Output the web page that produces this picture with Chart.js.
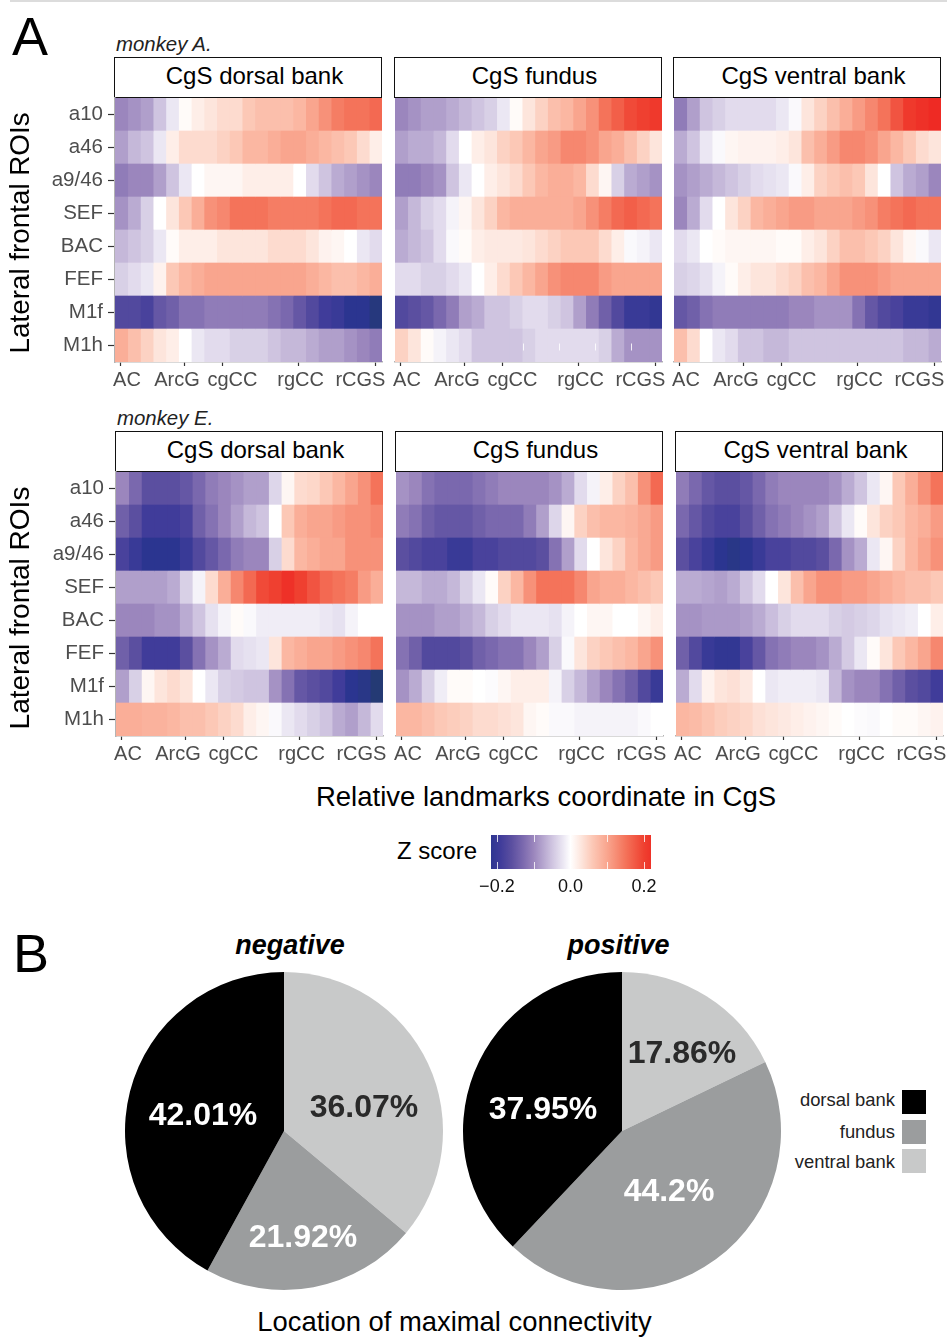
<!DOCTYPE html>
<html><head><meta charset="utf-8">
<script src="https://cdn.jsdelivr.net/npm/chart.js@4"></script>
<style>
html,body{margin:0;padding:0;background:#fff;}
#page{position:relative;width:947px;height:1337px;overflow:hidden;font-family:"Liberation Sans",Arial,sans-serif;color:#000;}
#page canvas{position:absolute;}
.t{position:absolute;white-space:nowrap;line-height:1;}
.strip{position:absolute;box-sizing:border-box;border:1.5px solid #111;background:#fff;font-size:24px;text-align:center;padding-left:13px;line-height:36px;height:41px;}
.box{position:absolute;width:24px;height:24px;}
</style></head><body><div id="page"></div>
<script>
// ---------- data (z score x 100) ----------
const rois = ['a10','a46','a9/46','SEF','BAC','FEF','M1f','M1h'];
const landmarks = ['AC','ArcG','cgCC','rgCC','rCGS'];
const landmarkCols = [0.47,5.47,8.46,14.46,20.46];
const landmarkLabelCols = [0.94,4.88,9.24,14.6,19.3];

const A_dorsal = [
[-10,-9,-8,-5,-2,0.5,2,3,4,4,6,7,7,7,8,10,12,14,15,15,16],
[-8,-6,-5,-2,2,4,4,4,5,6,8,8,9,10,10,9,8,7,6,4,2],
[-11,-10,-10,-8,-5,-2,0,1,1,1,2,2,2,2,0,-3,-5,-7,-8,-9,-10],
[-9,-7,-4,0,3,6,9,12,13,15,15,15,14,14,14,14,15,16,16,15,15],
[-6,-5,-4,-2,0.5,2,2,2,3,3,3,3,4,4,4,3,1.5,1,0,-2,-3],
[-4,-3,-2,1.5,6,8,9,10,10,10,10,10,10,10,10,9,8,7,7,8,9],
[-17,-17,-18,-15,-14,-12,-12,-11,-11,-11,-11,-11,-12,-13,-15,-17,-19,-20,-22,-22,-24],
[9,7,5,3,2,0,-2,-3,-3,-4,-4,-4,-5,-6,-6,-7,-8,-8,-9,-10,-11]];
const A_fundus = [
[-10,-9,-8,-8,-7,-6,-5,-4,-2,0.5,3,5,7,8,10,12,15,17,19,20,21],
[-8,-7,-7,-6,-3,0,2,3,5,6,8,10,11,13,13,12,10,9,7,5,3],
[-11,-11,-10,-9,-5,-2,0,2,3,4,6,8,9,9,8,4,1,-4,-7,-8,-9],
[-8,-6,-4,-3,-1,1,3,5,8,9,9,9,9,9,10,12,14,16,17,16,15],
[-7,-6,-5,-3,-0.5,0.5,2,2.5,2.5,2.5,3,4,5,6,6,6,4,2,-0.5,-1,-2],
[-3,-3,-4,-4,-3,-2,0,2,4,6,8,10,12,13,13,13,11,10,10,10,10],
[-17,-16,-15,-13,-11,-8,-7,-5,-5,-4,-3,-3,-4,-5,-8,-11,-14,-17,-20,-20,-21],
[5,3,0.5,-1,-2,-3,-5,-5,-5,-5,-4,-3,-3,-3,-3,-3,-4,-7,-9,-9,-9]];
const A_ventral = [
[-11,-8,-5,-4,-3,-3,-3,-3,-2,-0.5,3,5,7,9,11,13,15,18,21,22,23],
[-7,-5,-2,-0.5,1,1.5,1.5,1.5,2,3,7,9,11,13,13,12,10,8,6,4,3],
[-9,-8,-7,-6,-5,-4,-3,-2.5,-2,-0.5,2,5,6,7,6,3,0,-5,-7,-8,-10],
[-10,-7,-3,0,3,5,8,9,10,11,11,10,10,10,11,12,14,15,16,15,15],
[-3,-2,0,0.5,1,1,1,1,0.5,0.5,2,3,5,7,7,6,5,3,1,-0.5,-2],
[-4,-3.5,-2.5,-1,0.5,2,3,3,4,5,7,8,10,12,12,12,11,10,10,10,10],
[-15,-14,-12,-11,-11,-11,-11,-11,-11,-10,-10,-9,-9,-9,-12,-15,-17,-18,-20,-20,-21],
[7,4,0,-2,-3,-5,-5,-6,-6,-5,-5,-5,-5,-5,-5,-5,-5,-5,-6,-6,-7]];
const E_dorsal = [
[-10,-13,-16,-16,-16,-15,-13,-11,-10,-9,-8,-8,-3.5,1,4,4.5,6,8,10,12,15],
[-14,-16,-19,-19,-19,-18,-14,-12,-10,-8,-6,-5,0,6,9,10,10,11,12,12,13],
[-18,-20,-22,-22,-22,-20,-17,-15,-13,-11,-10,-10,-4,4,8,9,10,10,12,12,12],
[-8,-8,-8,-8,-7,-4,-1,4,9,13,16,19,20,22,20,18,16,15,14,11,9],
[-10,-10,-10,-9,-9,-7,-5,-2.5,-1,0.5,-0.5,-1.5,-1.5,-1.5,-1.5,-1.5,-2,-2.5,-1,0,0],
[-14,-16,-19,-19,-19,-16,-12,-9,-7,-3,-2.5,-2,3,8,9,10,10,11,12,13,15],
[-8,-4,1,3,4,3,0,-2,-4,-4.5,-5,-5,-9,-12,-15,-16,-17,-19,-22,-23,-25],
[9,9,8.5,8.5,8,7,7,6,5,4,2,1,-0.5,-2,-3,-4,-5,-7,-8,-6,-3]];
const E_fundus = [
[-9,-10,-12,-13,-13,-13,-12,-11,-10,-10,-10,-10,-9,-7,-3,-1,2,5,7,12,16],
[-11,-12,-14,-15,-15,-15,-14,-13,-13,-13,-11,-8,-3.5,1,5,7,8,8,8.5,9.5,11],
[-16,-17,-18,-18,-20,-20,-18,-18,-17,-17,-17,-16,-12,-8,-3,0,3,5,8,9.5,11],
[-6,-6,-7,-7,-6,-4,-2,0.5,5,8,12,15,15,15,13,10,9,9,8,7,6],
[-9,-9,-9,-8,-8,-7,-6,-4,-3,-2,-2,-2,-2.5,-1,0,1,1,0,0,1,2],
[-12,-14,-17,-17,-17,-16,-14,-13,-12,-12,-10,-8,-4,-0.5,3,5,6,7,8,10,12],
[-9,-7,-4,-1.5,0.5,0.5,0,-0.3,1,2,2,2,-1,-4,-6,-8,-10,-12,-14,-17,-20],
[8,8,7,6,5.5,5,4,4,3.5,3,1,0.5,-0.5,-0.5,-1,-1,-1,-1,-1,-0.5,0]];
const E_ventral = [
[-11,-13,-15,-16,-16,-15,-13,-11,-10,-10,-10,-10,-9,-7,-5,-2,1,6,9,12,15],
[-13,-15,-17,-18,-18,-16,-14,-12,-11,-10,-9,-8,-5,-2,0.5,3,5,6,8,9,11],
[-16,-18,-20,-22,-23,-22,-20,-18,-18,-17,-17,-16,-13,-9,-7,-2,1,5,8,10,12],
[-7,-7,-7.5,-8,-7,-5,-3,0,3,7,10,12,12,11,11,10,9,8,7,7,6],
[-9,-9,-8.5,-8.5,-8.5,-8,-7,-5.5,-4,-3,-3,-3,-4,-4.5,-4,-3.5,-2.5,-2,-1.5,0,2],
[-14,-17,-20,-21,-21,-18,-15,-12,-11,-10,-10,-9,-7,-4.5,-2,0.5,3,6,8,10,13],
[-7,-3,1.5,3,3.5,2.5,0,-2,-1.5,-1.5,-1.5,-2,-6,-9,-10,-10,-12,-14,-16,-17,-19],
[8,7.5,6.5,5.5,5,4.5,3.5,3,2.5,2,1.5,1,0.5,0,-0.3,-0.5,0,0.5,0.5,1,1.5]];

const colorbarRange = [-0.216,0.219];
const colorbarTicks = [-0.2,-0.1,0,0.1,0.2];
const colorbarTickLabels = ['\u22120.2','','0.0','','0.2'];

const pieCategories = ['ventral bank','fundus','dorsal bank'];
const negativeValues = [36.07,21.92,42.01];
const positiveValues = [17.86,44.2,37.95];
const legendOrder = ['dorsal bank','fundus','ventral bank'];

// ---------- styles and layout ----------
const FONT = '"Liberation Sans",Arial,sans-serif';
const stops = [[-25,'#243a74'],[-22,'#2b3590'],[-19,'#403c9a'],[-16,'#5b4fa0'],[-13,'#7a68ae'],[-10,'#9b86bd'],[-5,'#cfc4e0'],[-2,'#ebe7f3'],[0,'#ffffff'],[3,'#fde5dc'],[6,'#fcc8b6'],[10,'#f9a58e'],[15,'#f4735a'],[20,'#ef4030'],[23,'#ee2a24']];
const pieColors = {'dorsal bank':'#000000','fundus':'#9b9d9e','ventral bank':'#c8c9c9'};
const hex = s => [1,3,5].map(i=>parseInt(s.substr(i,2),16));
function zColor(v){
  if(v<=stops[0][0]) return stops[0][1];
  for(let i=1;i<stops.length;i++){
    if(v<=stops[i][0]){
      const a=stops[i-1],b=stops[i],f=(v-a[0])/(b[0]-a[0]);
      const ca=hex(a[1]),cb=hex(b[1]);
      return 'rgb('+ca.map((c,k)=>Math.round(c+(cb[k]-c)*f)).join(',')+')';
    }
  }
  return stops[stops.length-1][1];
}
const page = document.getElementById('page');
function addText(txt,x,y,size,opts={}){
  const d=document.createElement('div');d.className='t';d.textContent=txt;
  d.style.fontSize=size+'px';d.style.top=(y-size/2)+'px';
  if(opts.right!==undefined){d.style.right=(947-opts.right)+'px';}
  else if(opts.center){d.style.left=x+'px';d.style.transform='translateX(-50%)';}
  else d.style.left=x+'px';
  if(opts.style)d.style.fontStyle=opts.style;
  if(opts.weight)d.style.fontWeight=opts.weight;
  if(opts.color)d.style.color=opts.color;
  if(opts.rotate){d.style.transform='translate(-50%,0) rotate(-90deg)';d.style.left=x+'px';}
  page.appendChild(d);return d;
}
function addCanvas(l,t,w,h){
  const c=document.createElement('canvas');c.width=w;c.height=h;
  c.style.left=l+'px';c.style.top=t+'px';c.style.width=w+'px';c.style.height=h+'px';
  page.appendChild(c);return c;
}
const rule=document.createElement('div');
rule.style.cssText='position:absolute;left:10px;right:0;top:0;height:2px;background:#dcdcdc;';
page.appendChild(rule);

const whiteMarks={id:'whiteMarks',afterDatasetsDraw(chart,args,o){
  if(!o.cols)return;
  const c=chart.ctx,x=chart.scales.x,y=chart.scales.y;
  const yc=y.getPixelForValue(rois.length-1);
  c.save();c.strokeStyle='rgba(255,255,255,.85)';c.lineWidth=1;
  o.cols.forEach(v=>{const px=Math.round(x.getPixelForValue(v))+.5;c.beginPath();c.moveTo(px,yc-2);c.lineTo(px,yc+5);c.stroke();});
  c.restore();
}};

function heatPanel(values,left,heatTop,title,withAxis,marks){
  const strip=document.createElement('div');strip.className='strip';strip.textContent=title;
  strip.style.left=(left-1)+'px';strip.style.top=(heatTop-41)+'px';strip.style.width='268px';
  page.appendChild(strip);
  const padL=withAxis?0:8, axisW=withAxis?left:0, padR=14, padT=2;
  const cLeft=withAxis?0:left-padL;
  const width=axisW+padL+267+padR, height=padT+264+36;
  const canvas=addCanvas(cLeft,heatTop-padT,width,height);
  const datasets=values[0].map((_,c)=>({
    data:values.map((row,r)=>({x:[Math.max(0,c-0.15),c+1],y:rois[r],z:row[c]})),
    backgroundColor:ctx=>ctx.raw?zColor(ctx.raw.z):'#fff',
    borderWidth:0,barPercentage:1,categoryPercentage:1,grouped:false
  }));
  new Chart(canvas,{type:'bar',data:{labels:rois,datasets},
    plugins:[whiteMarks],
    options:{indexAxis:'y',responsive:false,animation:false,events:[],
      layout:{padding:{left:padL,right:padR,top:padT,bottom:0}},
      plugins:{legend:{display:false},tooltip:{enabled:false},whiteMarks:{cols:marks}},
      scales:{
        y:{type:'category',display:withAxis,offset:true,
          afterFit:s=>{s.width=axisW;s.paddingTop=0;s.paddingBottom=0;},
          border:{color:'#b3b3b3',width:1.5},
          grid:{offset:false,drawOnChartArea:false,tickLength:7,tickColor:'#333',tickWidth:1.2},
          ticks:{color:'#4d4d4d',padding:5,font:{family:FONT,size:20.5},autoSkip:false}},
        x:{type:'linear',position:'bottom',min:0,max:21,
          afterBuildTicks:s=>{s.ticks=landmarkCols.map(v=>({value:v}));},
          afterFit:s=>{s.height=5;s.paddingLeft=0;s.paddingRight=0;},
          border:{color:'#b3b3b3',width:1.5},
          grid:{drawOnChartArea:false,tickLength:4,tickColor:'#333',tickWidth:1.2},
          ticks:{display:false,autoSkip:false}},
        x2:{type:'linear',axis:'x',position:'bottom',min:0,max:21,
          afterBuildTicks:s=>{s.ticks=landmarkLabelCols.map(v=>({value:v}));},
          afterFit:s=>{s.height=31;s.paddingLeft=0;s.paddingRight=0;},
          border:{display:false},
          grid:{display:false,drawTicks:false},
          ticks:{autoSkip:false,maxRotation:0,minRotation:0,padding:1,color:'#4d4d4d',font:{family:FONT,size:20},
            callback:(v,i)=>landmarks[i]}}
      }}});
}
heatPanel(A_dorsal,115,98,'CgS dorsal bank',true);
heatPanel(A_fundus,395,98,'CgS fundus',false,[10.07,12.9,15.7,18.56]);
heatPanel(A_ventral,674,98,'CgS ventral bank',false);
heatPanel(E_dorsal,116,472,'CgS dorsal bank',true);
heatPanel(E_fundus,396,472,'CgS fundus',false);
heatPanel(E_ventral,676,472,'CgS ventral bank',false);

addText('Lateral frontal ROIs',19.5,232.5,27.8,{rotate:true});
addText('Lateral frontal ROIs',20,607.5,28,{rotate:true});
addText('A',12,36,54);
addText('B',13,953,54);
addText('monkey A.',116,44,20.4,{style:'italic',color:'#222'});
addText('monkey E.',117,418,20.4,{style:'italic',color:'#222'});
addText('Relative landmarks coordinate in CgS',546,797,27.5,{center:true});
addText('Z score',397,851,24);
addText('negative',290,945,27,{center:true,style:'italic',weight:'bold'});
addText('positive',618.5,945,27,{center:true,style:'italic',weight:'bold'});
addText('Location of maximal connectivity',454.5,1322,27.4,{center:true});

// colour bar
const whiteTicks={id:'whiteTicks',afterDatasetsDraw(chart){
  const c=chart.ctx,a=chart.chartArea,x=chart.scales.x;
  c.save();c.strokeStyle='rgba(255,255,255,.8)';c.lineWidth=1;
  colorbarTicks.forEach(v=>{const p=Math.round(x.getPixelForValue(v))+.5;
    c.beginPath();c.moveTo(p,a.top);c.lineTo(p,a.top+7);c.moveTo(p,a.bottom-7);c.lineTo(p,a.bottom);c.stroke();});
  c.restore();
}};
new Chart(addCanvas(471,834,200,70),{type:'bar',
  data:{labels:['Z score'],datasets:[{data:[colorbarRange],borderWidth:0,barPercentage:1,categoryPercentage:1,
    backgroundColor:ctx=>{
      const ch=ctx.chart,a=ch.chartArea;if(!a)return '#fff';
      const g=ch.ctx.createLinearGradient(a.left,0,a.right,0);
      const [lo,hi]=colorbarRange;
      stops.forEach(s=>{const f=(s[0]/100-lo)/(hi-lo);if(f>=0&&f<=1)g.addColorStop(f,s[1]);});
      g.addColorStop(0,zColor(lo*100));g.addColorStop(1,zColor(hi*100));
      return g;}}]},
  plugins:[whiteTicks],
  options:{indexAxis:'y',responsive:false,animation:false,events:[],
    layout:{padding:{left:20,right:20,top:1,bottom:0}},
    plugins:{legend:{display:false},tooltip:{enabled:false}},
    scales:{y:{display:false},
      x:{type:'linear',min:colorbarRange[0],max:colorbarRange[1],
        afterBuildTicks:s=>{s.ticks=colorbarTicks.map(v=>({value:v}));},
        afterFit:s=>{s.height=35;s.paddingLeft=0;s.paddingRight=0;},
        border:{display:false},grid:{display:false,drawTicks:false},
        ticks:{autoSkip:false,maxRotation:0,padding:7.5,color:'#111',font:{family:FONT,size:18},
          callback:(v,i)=>colorbarTickLabels[i]}}}}});

// pies
const sliceLabels={id:'sliceLabels',afterDatasetsDraw(chart,args,o){
  const c=chart.ctx,meta=chart.getDatasetMeta(0);
  c.save();c.font='bold 32px '+FONT;c.textAlign='center';c.textBaseline='middle';
  meta.data.forEach((arc,i)=>{
    c.fillStyle=i===0?'#2a2a2a':'#fff';
    c.fillText(chart.data.datasets[0].data[i]+'%',arc.x+o.offsets[i][0],arc.y+o.offsets[i][1]);
  });
  c.restore();
}};
function pie(values,left,offsets){
  new Chart(addCanvas(left,971,320,320),{type:'pie',
    data:{labels:pieCategories,datasets:[{data:values,backgroundColor:pieCategories.map(n=>pieColors[n]),borderWidth:0}]},
    plugins:[sliceLabels],
    options:{responsive:false,animation:false,events:[],layout:{padding:1},
      plugins:{legend:{display:false},tooltip:{enabled:false},sliceLabels:{offsets}}}});
}
pie(negativeValues,124,[[80,-23],[19,107],[-81,-15]]);
pie(positiveValues,462,[[60,-77],[47,61],[-79,-21]]);

// legend
const legendY=[1102,1131.5,1161];
const legendTextY=[1100,1132.5,1162];
legendOrder.forEach((n,i)=>{
  const b=document.createElement('div');b.className='box';
  b.style.left='902px';b.style.top=(legendY[i]-12)+'px';b.style.background=pieColors[n];
  page.appendChild(b);
  addText(n,0,legendTextY[i],18.4,{right:895,color:'#222'});
});
</script></body></html>
